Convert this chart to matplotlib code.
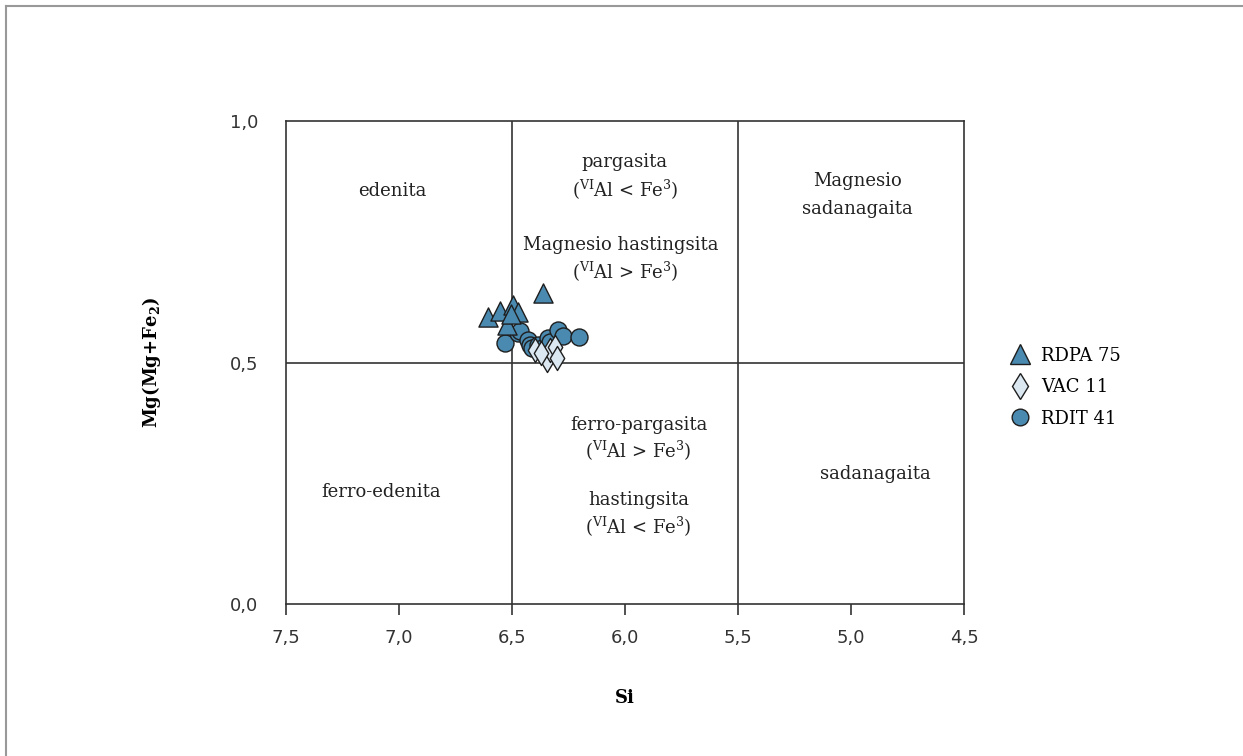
import matplotlib
matplotlib.use("Agg")
import matplotlib.pyplot as plt
from matplotlib.lines import Line2D

# Anfibolios - Si vs Mg/(Mg+Fe2)
rdpa_si = [6.361, 6.605, 6.553, 6.494, 6.472, 6.523, 6.505]
rdpa_mg = [0.643, 0.594, 0.607, 0.619, 0.605, 0.578, 0.600]

vac_si = [6.398, 6.346, 6.332, 6.310, 6.302, 6.370]
vac_mg = [0.526, 0.505, 0.526, 0.533, 0.509, 0.520]

rdit_si = [6.531, 6.472, 6.465, 6.428, 6.420, 6.413, 6.384, 6.369,
           6.339, 6.332, 6.295, 6.276, 6.202]
rdit_mg = [0.540, 0.562, 0.566, 0.547, 0.536, 0.529, 0.536, 0.529,
           0.550, 0.543, 0.567, 0.555, 0.553]

x_ticks = [7.5, 7.0, 6.5, 6.0, 5.5, 5.0, 4.5]
x_labels = ["7,5", "7,0", "6,5", "6,0", "5,5", "5,0", "4,5"]
y_ticks = [0.0, 0.5, 1.0]
y_labels = ["0,0", "0,5", "1,0"]

blue = "#4a8ab0"
light = "#dbe8f2"
edge = "#1e1e1e"
serif = "DejaVu Serif"
plt.rcParams["mathtext.fontset"] = "dejavuserif"

fig = plt.figure(figsize=(12.43, 7.56), dpi=100)
ax = fig.add_axes([0.2301, 0.2011, 0.5454, 0.6388])

ax.axvline(6.5, color="#333333", lw=1.2)
ax.axvline(5.5, color="#333333", lw=1.2)
ax.axhline(0.5, color="#333333", lw=1.2)

ax.scatter(rdit_si, rdit_mg, marker="o", s=150, c=blue, edgecolors=edge, linewidths=1.0, zorder=3)
ax.scatter(vac_si, vac_mg, marker="d", s=150, c=light, edgecolors=edge, linewidths=1.0, zorder=4)
ax.scatter(rdpa_si, rdpa_mg, marker="^", s=190, c=blue, edgecolors=edge, linewidths=1.0, zorder=5)

ax.set_xlim(7.5, 4.5)
ax.set_ylim(0, 1.0)
ax.set_xticks(x_ticks)
ax.set_xticklabels(x_labels, fontsize=13, color="#333333")
ax.set_yticks(y_ticks)
ax.set_yticklabels(y_labels, fontsize=13, color="#333333")
ax.tick_params(axis="x", direction="out", length=8, width=1.2, color="#333333", pad=10)
ax.tick_params(axis="y", length=0, pad=20)
for s in ax.spines.values():
    s.set_color("#333333")
    s.set_linewidth(1.2)

ax.set_xlabel("Si", fontsize=13, fontweight="bold", family=serif, labelpad=30)
ax.set_ylabel(r"Mg(Mg+Fe$_{\mathbf{2}}$)", fontsize=13, fontweight="bold", family=serif, labelpad=48)

kw = dict(ha="center", va="center", fontsize=13, family=serif, color="#222222")
lt = r"($^{\mathrm{VI}}$Al < Fe$^{3}$)"
gt = r"($^{\mathrm{VI}}$Al > Fe$^{3}$)"
ax.text(7.03, 0.855, "edenita", **kw)
ax.text(6.0, 0.915, "pargasita", **kw)
ax.text(6.0, 0.858, lt, **kw)
ax.text(6.02, 0.743, "Magnesio hastingsita", **kw)
ax.text(6.0, 0.688, gt, **kw)
ax.text(4.97, 0.875, "Magnesio", **kw)
ax.text(4.97, 0.818, "sadanagaita", **kw)
ax.text(5.94, 0.370, "ferro-pargasita", **kw)
ax.text(5.94, 0.316, gt, **kw)
ax.text(5.94, 0.215, "hastingsita", **kw)
ax.text(5.94, 0.160, lt, **kw)
ax.text(7.08, 0.232, "ferro-edenita", **kw)
ax.text(4.89, 0.270, "sadanagaita", **kw)

handles = [
    Line2D([], [], ls="none", marker="^", ms=14, mfc=blue, mec=edge, mew=1.0, label="RDPA 75"),
    Line2D([], [], ls="none", marker="d", ms=13, mfc=light, mec=edge, mew=1.0, label="VAC 11"),
    Line2D([], [], ls="none", marker="o", ms=12, mfc=blue, mec=edge, mew=1.0, label="RDIT 41"),
]
leg = fig.legend(handles=handles, loc="center left", bbox_to_anchor=(0.8, 0.488),
                 frameon=False, handlelength=1.0, handletextpad=0.7, labelspacing=0.75,
                 prop={"family": serif, "size": 13})

# marco gris arriba y a la izquierda
fig.add_artist(Line2D([0.005, 1.0], [0.992, 0.992], color="#999999", lw=1.5))
fig.add_artist(Line2D([0.005, 0.005], [0.0, 0.992], color="#999999", lw=1.5))

fig.savefig("out.png", dpi=100)
